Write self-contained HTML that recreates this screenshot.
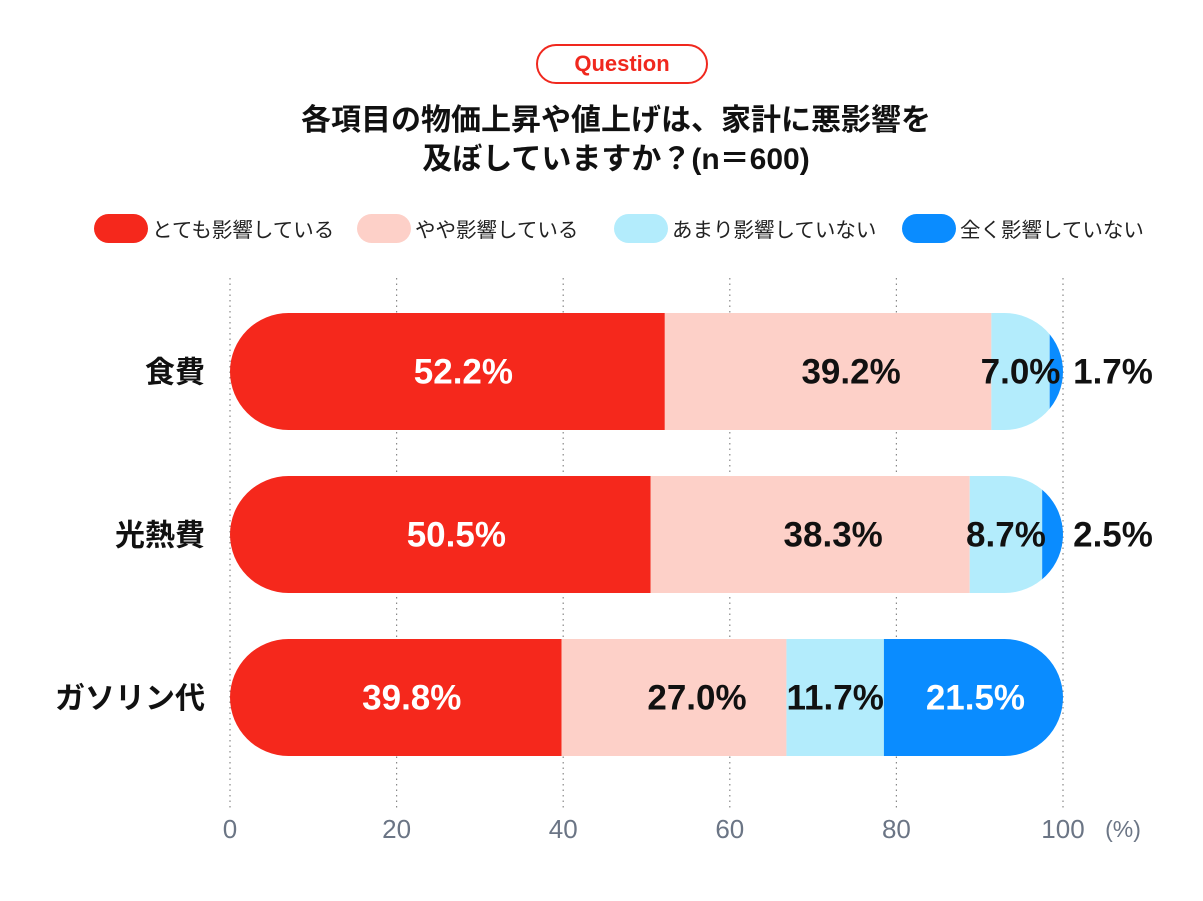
<!DOCTYPE html>
<html><head><meta charset="utf-8"><style>
body{margin:0;background:#fff;}
svg{display:block;font-family:"Liberation Sans","Noto Sans CJK JP",sans-serif;}
</style></head><body>
<svg id="c" width="1203" height="901">
<rect x="537" y="45" width="170" height="38" rx="19" fill="#fff" stroke="#f0281e" stroke-width="2"/>
<text x="622" y="71" text-anchor="middle" font-size="22" font-weight="bold" fill="#f0281e">Question</text>
<text x="616" y="130" text-anchor="middle" font-size="30" font-weight="bold" fill="#111">各項目の物価上昇や値上げは、家計に悪影響を</text>
<text x="616" y="169" text-anchor="middle" font-size="30" font-weight="bold" fill="#111">及ぼしていますか？(n＝600)</text>
<g id="legend"></g>
<g id="grid"></g>
<g id="bars"></g>
<g id="axis"></g>
</svg>
<script>
const categories=["食費","光熱費","ガソリン代"];
const seriesNames=["とても影響している","やや影響している","あまり影響していない","全く影響していない"];
const s1=[52.2,50.5,39.8];
const s2=[39.2,38.3,27.0];
const s3=[7.0,8.7,11.7];
const s4=[1.7,2.5,21.5];
const ticks=[0,20,40,60,80,100];
const colors=["#f5281c","#fdd0c8","#b3ecfc","#0a8cff"];
const txtCol=["#fff","#111","#111","#fff"];
const labelShift=[16,23,0,2];
const NS="http://www.w3.org/2000/svg";
const X0=230,X1=1063;
const x=v=>X0+(X1-X0)*v/100;
const rowY=[313,476,639],BH=117;
function mk(t,a,p){const e=document.createElementNS(NS,t);for(const k in a)e.setAttribute(k,a[k]);p.appendChild(e);return e;}
const legend=document.getElementById('legend');
const lx=[94,357,614,902];
seriesNames.forEach((n,i)=>{
 const r=mk('rect',{x:lx[i],y:214,width:54,height:29,rx:14.5,fill:colors[i]},legend);
 
 
 const t=mk('text',{x:lx[i]+58,y:237,'font-size':20.5,fill:'#222'},legend);t.textContent=n;
 
 
});
const grid=document.getElementById('grid'),axis=document.getElementById('axis');
ticks.forEach(t=>{
 const l=mk('line',{x1:x(t),x2:x(t),y1:278,y2:810,stroke:'#888','stroke-width':1.2,'stroke-dasharray':'1.5 4'},grid);
 
 
 const tx=mk('text',{x:x(t),y:838,'text-anchor':'middle','font-size':26,fill:'#6b7585'},axis);tx.textContent=t;
 
 
});
const u=mk('text',{x:1123,y:837,'text-anchor':'middle','font-size':23,fill:'#6b7585'},axis);u.textContent='(%)';


const bars=document.getElementById('bars');
const defs=mk('defs',{},bars);
const series=[s1,s2,s3,s4];
categories.forEach((c,i)=>{
 const y=rowY[i];
 const cp=mk('clipPath',{id:'cp'+i},defs);
 mk('rect',{x:X0,y:y,width:X1-X0,height:BH,rx:BH/2},cp);
 const g=mk('g',{'clip-path':'url(#cp'+i+')'},bars);
 const lab=mk('text',{x:205,y:y+BH/2+11,'text-anchor':'end','font-size':30,'font-weight':'bold',fill:'#111'},bars);lab.textContent=c;
 
 
 let acc=0;
 series.forEach((s,j)=>{
  const v=s[i];
  const r=mk('rect',{x:x(acc),y:y,width:x(acc+v)-x(acc),height:BH,fill:colors[j]},g);
  
  
  let cx=(x(acc)+x(acc+v))/2+labelShift[j],col=txtCol[j];
  if(v<4){cx=X1+50;col='#111';}
  const t=mk('text',{x:cx,y:y+BH/2+12,'text-anchor':'middle','font-size':35,'font-weight':'bold',fill:col},bars);
  t.textContent=v.toFixed(1)+'%';
  
  
  acc+=v;
 });
});
</script>
</body></html>
